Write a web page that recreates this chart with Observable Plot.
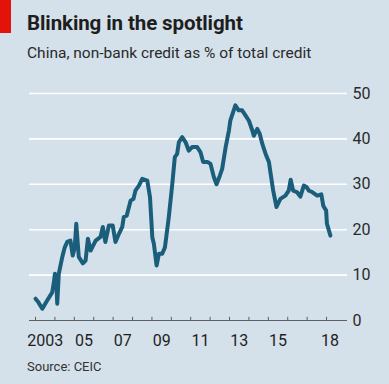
<!DOCTYPE html>
<html>
<head>
<meta charset="utf-8">
<script src="https://cdn.jsdelivr.net/npm/d3@7"></script>
<script src="https://cdn.jsdelivr.net/npm/@observablehq/plot@0.6"></script>
<style>
  html, body { margin: 0; padding: 0; }
  body { width: 389px; height: 384px; background: #d4e1ea; position: relative; overflow: hidden; font-family: Roboto, "Noto Sans", sans-serif; }
  #redbar { position: absolute; left: 0; top: 0; width: 11px; height: 33px; background: #e3120b; }
  #title { position: absolute; left: 27px; top: 11px; font-size: 20.5px; font-weight: bold; color: #1e1e1e; white-space: nowrap; letter-spacing: -0.1px; }
  #subtitle { position: absolute; left: 27px; top: 44px; font-size: 15.5px; color: #2a2a2a; white-space: nowrap; }
  #chart { position: absolute; left: 0; top: 70px; }
  #source { position: absolute; left: 27px; top: 359px; font-size: 13px; color: #333; white-space: nowrap; }
</style>
</head>
<body>
<div id="redbar"></div>
<div id="title">Blinking in the spotlight</div>
<div id="subtitle">China, non-bank credit as % of total credit</div>
<div id="chart"></div>
<div id="source">Source: CEIC</div>
<script>
const years = [
  2003.00, 2003.15, 2003.35, 2003.60, 2003.86, 2003.95, 2004.00, 2004.08, 2004.12, 2004.20,
  2004.38, 2004.50, 2004.63, 2004.80, 2004.92, 2005.02, 2005.10, 2005.23, 2005.44, 2005.58,
  2005.70, 2005.84, 2006.10, 2006.35, 2006.47, 2006.60, 2006.78, 2006.98, 2007.12, 2007.30,
  2007.47, 2007.55, 2007.70, 2007.90, 2008.05, 2008.15, 2008.33, 2008.50, 2008.76, 2008.90,
  2009.02, 2009.10, 2009.24, 2009.36, 2009.53, 2009.67, 2009.87, 2010.05, 2010.18, 2010.30,
  2010.39, 2010.56, 2010.73, 2010.90, 2011.07, 2011.33, 2011.50, 2011.64, 2011.88, 2012.02,
  2012.19, 2012.33, 2012.50, 2012.62, 2012.80, 2012.97, 2013.04, 2013.30, 2013.47, 2013.65,
  2013.82, 2014.00, 2014.17, 2014.25, 2014.43, 2014.56, 2014.69, 2014.86, 2015.03, 2015.12,
  2015.25, 2015.42, 2015.62, 2015.88, 2016.05, 2016.15, 2016.28, 2016.47, 2016.65, 2016.83,
  2016.97, 2017.09, 2017.26, 2017.52, 2017.73, 2017.83, 2017.98, 2018.02, 2018.20
];
const shares = [
  4.8, 4.0, 2.6, 4.4, 6.2, 8.5, 10.3, 8.0, 3.7, 10.3,
  14.0, 16.0, 17.3, 17.6, 14.3, 16.0, 21.3, 14.0, 12.6, 13.2,
  18.0, 15.4, 17.6, 18.4, 20.6, 17.3, 20.9, 20.9, 17.3, 19.1,
  20.6, 22.8, 23.1, 26.4, 26.8, 28.6, 29.7, 31.2, 30.8, 27.2,
  18.3, 16.9, 12.1, 14.7, 14.7, 16.1, 22.8, 30.1, 36.0, 36.7,
  39.3, 40.4, 39.3, 37.4, 38.2, 38.2, 37.1, 34.9, 34.9, 34.5,
  31.6, 30.0, 31.9, 33.4, 38.2, 41.9, 44.0, 47.4, 46.3, 46.3,
  45.2, 44.0, 41.9, 40.7, 42.2, 41.1, 38.9, 36.7, 34.9, 32.3,
  28.6, 25.0, 26.8, 27.5, 28.6, 31.0, 28.6, 28.3, 27.3, 29.7,
  29.4, 28.6, 28.3, 27.5, 27.8, 25.3, 24.2, 21.3, 18.7
];
const yTicks = [0, 10, 20, 30, 40, 50];
const gridValues = [10, 20, 30, 40, 50];
const yearTicks = d3.range(2003, 2019);
const xLabels = ["2003", "05", "07", "09", "11", "13", "15", "18"];
const xLabelPos = [2003.5, 2005.5, 2007.5, 2009.5, 2011.5, 2013.5, 2015.5, 2018.18];

const data = years.map((y, i) => ({year: y, share: shares[i]}));
const labels = xLabels.map((t, i) => ({text: t, x: xLabelPos[i]}));

const chart = Plot.plot({
  width: 389,
  height: 285,
  marginTop: 23,
  marginBottom: 35,
  marginLeft: 29,
  marginRight: 42,
  style: {background: "transparent", fontFamily: "Roboto, 'Noto Sans', sans-serif", fontSize: "16px", color: "#2a2a2a"},
  x: {domain: [2002.69, 2019.08], axis: null},
  y: {domain: [0, 50], axis: null},
  marks: [
    Plot.ruleY(gridValues, {stroke: "#ffffff", strokeWidth: 1.6}),
    Plot.ruleY([0], {stroke: "#5a6066", strokeWidth: 1}),
    Plot.ruleX(yearTicks, {x: d => d, y1: 0, y2: 0.7, stroke: "#5a6066", strokeWidth: 1}),
    Plot.axisY(yTicks, {anchor: "right", label: null, tickSize: 0, tickPadding: 5, fontSize: 16, fill: "#2a2a2a"}),
    Plot.text(labels, {x: "x", y: 0, text: "text", dy: 20, fontSize: 16, fill: "#1e1e1e"}),
    Plot.line(data, {x: "year", y: "share", stroke: "#1b5e7b", strokeWidth: 4, strokeLinejoin: "round", strokeLinecap: "round"})
  ]
});
document.getElementById("chart").appendChild(chart);
</script>
</body>
</html>
